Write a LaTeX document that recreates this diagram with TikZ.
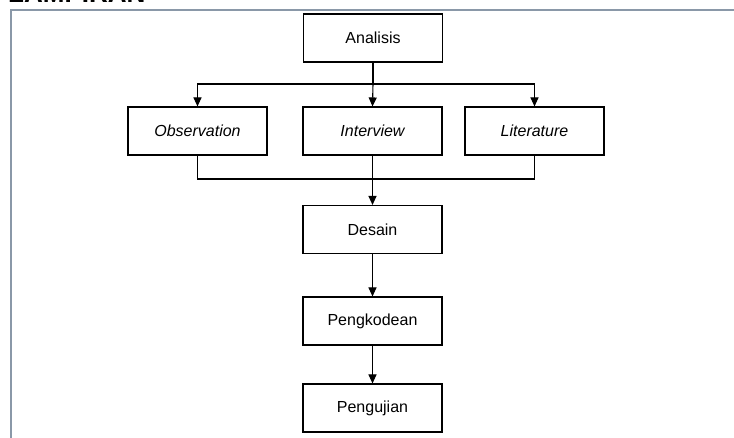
\documentclass[tikz,border=0pt]{standalone}
\usepackage{fontspec}
\setmainfont{Liberation Sans}
\usetikzlibrary{arrows.meta}
\definecolor{framegray}{RGB}{138,152,168}
\tikzset{
  box/.style={draw=black, line width=1.1pt, minimum width=139pt, minimum height=48pt, inner sep=0pt, font=\fontsize{16}{19}\selectfont},
  arr/.style={draw=black, line width=1.1pt, -{Triangle[length=9pt,width=8pt]}},
  ln/.style={draw=black, line width=1.1pt},
}
\begin{document}
\begin{tikzpicture}[x=1pt,y=-1pt]
\useasboundingbox (0,0) rectangle (734,438);
% cut-off heading
\begin{scope}
\clip (0,0) rectangle (734,438);
\node[anchor=base west, inner sep=0pt, font=\bfseries\fontsize{26}{30}\selectfont] (head) at (8,3) {LAMPIRAN};
\end{scope}
% frame
\draw[framegray, line width=2pt] (10.5,438) -- (10.5,10.5) -- (734,10.5);
% boxes
\node[box] (ana) at (373,38) {Analisis};
\node[box] (obs) at (197.5,131) {\itshape Observation};
\node[box] (int) at (372.5,131) {\itshape Interview};
\node[box] (lit) at (534.5,131) {\itshape Literature};
\node[box] (des) at (372.5,229.5) {Desain};
\node[box] (kod) at (372.5,321) {Pengkodean};
\node[box] (uji) at (372.5,408) {Pengujian};
% connectors
\coordinate (split) at (373,84);
\coordinate (join) at (373,179);
\draw[ln] (ana.south) -- (split);
\draw[arr] (split) -| (obs.north);
\draw[arr] (split) -- (int.north);
\draw[arr] (split) -| (lit.north);
\draw[ln] (obs.south) |- (join) -| (lit.south);
\draw[arr] (int.south) -- (des.north);
\draw[arr] (des.south) -- (kod.north);
\draw[arr] (kod.south) -- (uji.north);
\end{tikzpicture}
\end{document}
